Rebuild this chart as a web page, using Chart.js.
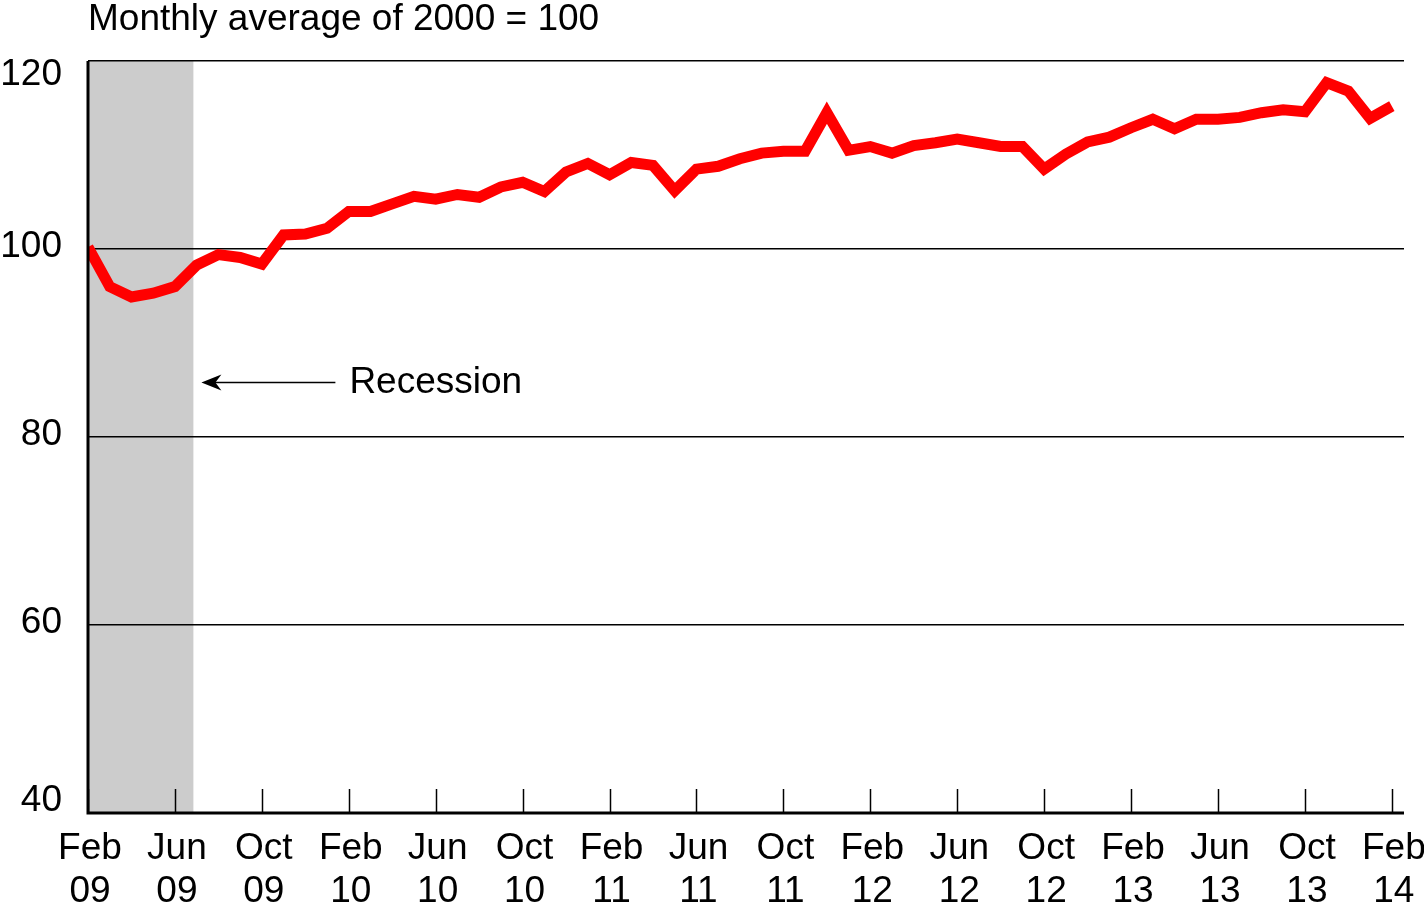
<!DOCTYPE html>
<html>
<head>
<meta charset="utf-8">
<script src="https://cdn.jsdelivr.net/npm/chart.js@4.4.1/dist/chart.umd.min.js"></script>
<style>
html, body { margin: 0; padding: 0; background: #fff; }
#wrap { width: 1424px; height: 918px; position: relative; }
</style>
</head>
<body>
<div id="wrap"><canvas id="chart"></canvas></div>
<script>
var months = [
    'Feb 09', 'Mar 09', 'Apr 09', 'May 09', 'Jun 09', 'Jul 09', 'Aug 09', 'Sep 09', 'Oct 09', 'Nov 09', 'Dec 09',
    'Jan 10', 'Feb 10', 'Mar 10', 'Apr 10', 'May 10', 'Jun 10', 'Jul 10', 'Aug 10', 'Sep 10', 'Oct 10', 'Nov 10', 'Dec 10',
    'Jan 11', 'Feb 11', 'Mar 11', 'Apr 11', 'May 11', 'Jun 11', 'Jul 11', 'Aug 11', 'Sep 11', 'Oct 11', 'Nov 11', 'Dec 11',
    'Jan 12', 'Feb 12', 'Mar 12', 'Apr 12', 'May 12', 'Jun 12', 'Jul 12', 'Aug 12', 'Sep 12', 'Oct 12', 'Nov 12', 'Dec 12',
    'Jan 13', 'Feb 13', 'Mar 13', 'Apr 13', 'May 13', 'Jun 13', 'Jul 13', 'Aug 13', 'Sep 13', 'Oct 13', 'Nov 13', 'Dec 13',
    'Jan 14', 'Feb 14'
];

var values = [
    100.2, 96.0, 94.9, 95.3, 96.0, 98.3, 99.4, 99.1, 98.4, 101.5, 101.6,
    102.2, 104.0, 104.0, 104.8, 105.6, 105.3, 105.8, 105.5, 106.6, 107.1, 106.1, 108.2,
    109.1, 107.9, 109.2, 108.9, 106.2, 108.5, 108.8, 109.6, 110.2, 110.4, 110.4, 114.5,
    110.5, 110.9, 110.2, 111.0, 111.3, 111.7, 111.3, 110.9, 110.9, 108.5, 110.1, 111.4,
    111.9, 112.9, 113.8, 112.8, 113.8, 113.8, 114.0, 114.5, 114.8, 114.6, 117.7, 116.8,
    113.9, 115.2
];

var yTicks = [40, 60, 80, 100, 120];
var xTickEvery = 4;
var recessionStart = 0;
var recessionEnd = 4.85;

var titleText = 'Monthly average of 2000 = 100';
var noteText = 'Recession';
var font = '37px "Liberation Sans", Arial, sans-serif';

var points = [];
for (var i = 0; i < values.length; i++) {
    points.push({ x: i, y: values[i] });
}

var decorPlugin = {
    id: 'decor',
    // shading goes under the grid lines
    beforeDraw: function (chart) {
        var ctx = chart.ctx;
        var xs = chart.scales.x;
        var area = chart.chartArea;
        var x0 = xs.getPixelForValue(recessionStart);
        var x1 = xs.getPixelForValue(recessionEnd);
        ctx.save();
        ctx.fillStyle = '#cccccc';
        ctx.fillRect(x0, area.top, x1 - x0, area.bottom - area.top);
        ctx.restore();
    },
    afterDraw: function (chart) {
        var ctx = chart.ctx;
        var xs = chart.scales.x;
        var ys = chart.scales.y;
        var area = chart.chartArea;
        ctx.save();

        // axes
        ctx.strokeStyle = '#000';
        ctx.lineWidth = 3;
        ctx.beginPath();
        ctx.moveTo(area.left, area.top);
        ctx.lineTo(area.left, area.bottom);
        ctx.lineTo(area.right, area.bottom);
        ctx.stroke();

        // x ticks pointing up
        ctx.lineWidth = 1.5;
        for (var i = 0; i < months.length; i += xTickEvery) {
            var tx = Math.round(xs.getPixelForValue(i)) + 0.5;
            ctx.beginPath();
            ctx.moveTo(tx, area.bottom);
            ctx.lineTo(tx, area.bottom - 24);
            ctx.stroke();
        }

        // x labels
        ctx.fillStyle = '#000';
        ctx.font = font;
        ctx.textAlign = 'center';
        ctx.textBaseline = 'middle';
        for (var j = 0; j < months.length; j += xTickEvery) {
            var lx = xs.getPixelForValue(j);
            var parts = months[j].split(' ');
            ctx.fillText(parts[0], lx + 2, area.bottom + 36);
            ctx.fillText(parts[1], lx + 2, area.bottom + 79);
        }

        // y labels
        ctx.textAlign = 'right';
        for (var k = 0; k < yTicks.length; k++) {
            var ly = ys.getPixelForValue(yTicks[k]) - 2;
            if (ly < area.top + 14) ly = area.top + 14;
            if (ly > area.bottom - 12) ly = area.bottom - 12;
            ctx.fillText(String(yTicks[k]), area.left - 26, ly);
        }

        // title
        ctx.textAlign = 'left';
        ctx.fillText(titleText, area.left, area.top - 41);

        // recession note with arrow
        var ay = ys.getPixelForValue(85.8);
        var tip = xs.getPixelForValue(recessionEnd) + 8;
        ctx.fillText(noteText, tip + 148, ay);
        ctx.lineWidth = 1.5;
        ctx.beginPath();
        ctx.moveTo(tip + 134, ay);
        ctx.lineTo(tip + 10, ay);
        ctx.stroke();
        ctx.beginPath();
        ctx.moveTo(tip, ay);
        ctx.lineTo(tip + 20, ay - 8);
        ctx.lineTo(tip + 14, ay);
        ctx.lineTo(tip + 20, ay + 8);
        ctx.closePath();
        ctx.fill();

        ctx.restore();
    }
};

new Chart(document.getElementById('chart'), {
    type: 'line',
    data: {
        datasets: [{
            data: points,
            borderColor: '#ff0000',
            borderWidth: 11,
            borderJoinStyle: 'miter',
            borderCapStyle: 'butt',
            pointRadius: 0,
            tension: 0,
            fill: false
        }]
    },
    options: {
        responsive: true,
        maintainAspectRatio: false,
        animation: false,
        layout: {
            padding: { left: 88, top: 61, right: 20, bottom: 97 }
        },
        scales: {
            x: {
                type: 'linear',
                min: 0,
                max: 60.56,
                grid: { display: false },
                border: { display: false },
                ticks: { display: false }
            },
            y: {
                min: 40,
                max: 120,
                afterBuildTicks: function (scale) {
                    scale.ticks = yTicks.map(function (v) { return { value: v }; });
                },
                grid: { color: '#000', lineWidth: 1.5, drawTicks: false },
                border: { display: false },
                ticks: { display: false }
            }
        },
        plugins: {
            legend: { display: false },
            tooltip: { enabled: false }
        }
    },
    plugins: [decorPlugin]
});
</script>
</body>
</html>
